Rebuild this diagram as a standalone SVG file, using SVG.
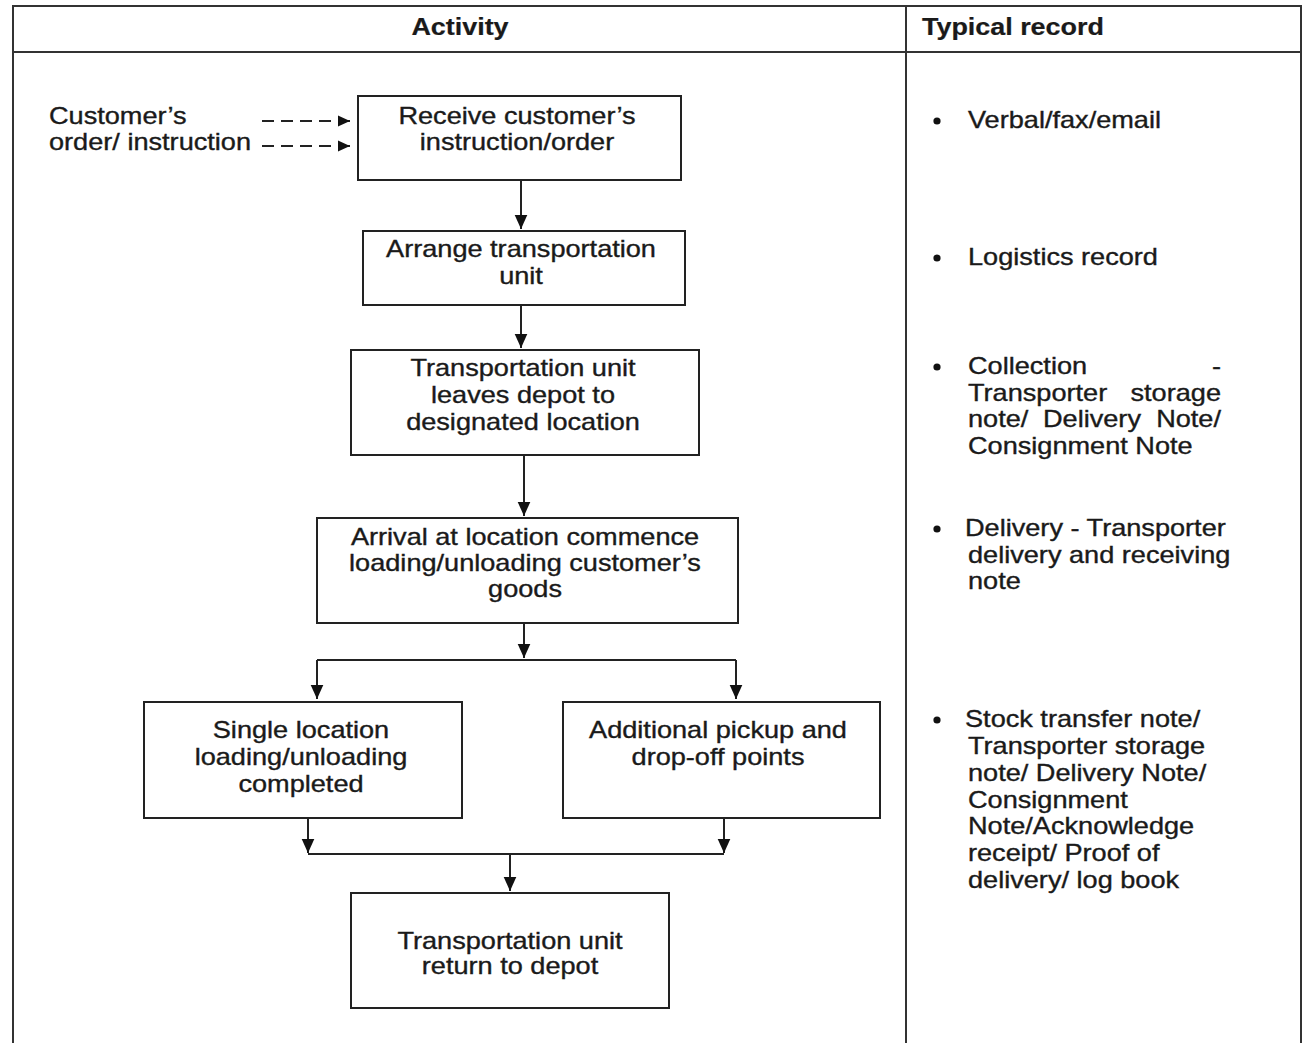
<svg xmlns="http://www.w3.org/2000/svg" width="1310" height="1043" viewBox="0 0 1310 1043">
<style>
.t{font-family:"Liberation Sans",Arial,sans-serif;font-size:23px;fill:#1a1a1a;stroke:#1a1a1a;stroke-width:0.35}
.m{text-anchor:middle}
.e{text-anchor:end}
.b{font-weight:bold;stroke-width:0.2}
.box{fill:#fff;stroke:#222;stroke-width:2}
.grid{stroke:#333;stroke-width:2;fill:none}
.c{stroke:#222;stroke-width:2;fill:none}
.d{stroke:#222;stroke-width:2;fill:none;stroke-dasharray:12 7}
</style>
<defs>
<marker id="ah" markerWidth="14" markerHeight="14" refX="10" refY="5" orient="auto" markerUnits="userSpaceOnUse" viewBox="0 0 10 10">
<path d="M0,0.5 L10,5 L0,9.5 Z" fill="#111"/>
</marker>
<marker id="ahs" markerWidth="12" markerHeight="12" refX="10" refY="5" orient="auto" markerUnits="userSpaceOnUse" viewBox="0 0 10 10">
<path d="M0,0.5 L10,5 L0,9.5 Z" fill="#111"/>
</marker>
</defs>
<rect width="1310" height="1043" fill="#fff"/>
<g id="table">
<path class="grid" d="M13,1050 V6 H1301 V1050 M906,6 V1050 M13,52 H1301"/>
<text class="t b m" transform="translate(460,35) scale(1.17,1)">Activity</text>
<text class="t b" transform="translate(922,35) scale(1.17,1)">Typical record</text>
</g>
<g id="input">
<text class="t" transform="translate(49,124) scale(1.18,1)">Customer’s</text>
<text class="t" transform="translate(49,150) scale(1.18,1)">order/ instruction</text>
</g>
<g id="connectors">
<line class="d" x1="262" y1="121" x2="350" y2="121" marker-end="url(#ahs)"/>
<line class="d" x1="262" y1="146" x2="350" y2="146" marker-end="url(#ahs)"/>
<line class="c" x1="521" y1="180" x2="521" y2="229" marker-end="url(#ah)"/>
<line class="c" x1="521" y1="305" x2="521" y2="348" marker-end="url(#ah)"/>
<line class="c" x1="524" y1="455" x2="524" y2="516" marker-end="url(#ah)"/>
<line class="c" x1="524" y1="623" x2="524" y2="658" marker-end="url(#ah)"/>
<line class="c" x1="317" y1="660" x2="736" y2="660"/>
<line class="c" x1="317" y1="660" x2="317" y2="699" marker-end="url(#ah)"/>
<line class="c" x1="736" y1="660" x2="736" y2="699" marker-end="url(#ah)"/>
<line class="c" x1="308" y1="818" x2="308" y2="853" marker-end="url(#ah)"/>
<line class="c" x1="724" y1="818" x2="724" y2="853" marker-end="url(#ah)"/>
<line class="c" x1="308" y1="854" x2="724" y2="854"/>
<line class="c" x1="510" y1="854" x2="510" y2="891" marker-end="url(#ah)"/>
</g>
<g id="n1">
<rect class="box" x="358" y="96" width="323" height="84"/>
<text class="t m" transform="translate(517,124) scale(1.18,1)">Receive customer’s</text>
<text class="t m" transform="translate(517,150) scale(1.18,1)">instruction/order</text>
</g>
<g id="n2">
<rect class="box" x="363" y="231" width="322" height="74"/>
<text class="t m" transform="translate(521,257) scale(1.18,1)">Arrange transportation</text>
<text class="t m" transform="translate(521,284) scale(1.18,1)">unit</text>
</g>
<g id="n3">
<rect class="box" x="351" y="350" width="348" height="105"/>
<text class="t m" transform="translate(523,376) scale(1.18,1)">Transportation unit</text>
<text class="t m" transform="translate(523,403) scale(1.18,1)">leaves depot to</text>
<text class="t m" transform="translate(523,430) scale(1.18,1)">designated location</text>
</g>
<g id="n4">
<rect class="box" x="317" y="518" width="421" height="105"/>
<text class="t m" transform="translate(525,545) scale(1.18,1)">Arrival at location commence</text>
<text class="t m" transform="translate(525,571) scale(1.18,1)">loading/unloading customer’s</text>
<text class="t m" transform="translate(525,597) scale(1.18,1)">goods</text>
</g>
<g id="n5">
<rect class="box" x="144" y="702" width="318" height="116"/>
<text class="t m" transform="translate(301,738) scale(1.18,1)">Single location</text>
<text class="t m" transform="translate(301,765) scale(1.18,1)">loading/unloading</text>
<text class="t m" transform="translate(301,792) scale(1.18,1)">completed</text>
</g>
<g id="n6">
<rect class="box" x="563" y="702" width="317" height="116"/>
<text class="t m" transform="translate(718,738) scale(1.18,1)">Additional pickup and</text>
<text class="t m" transform="translate(718,765) scale(1.18,1)">drop-off points</text>
</g>
<g id="n7">
<rect class="box" x="351" y="893" width="318" height="115"/>
<text class="t m" transform="translate(510,949) scale(1.18,1)">Transportation unit</text>
<text class="t m" transform="translate(510,974) scale(1.18,1)">return to depot</text>
</g>
<g id="records" fill="#111">
<circle cx="937" cy="121" r="3.6"/>
<text class="t" transform="translate(968,128) scale(1.18,1)">Verbal/fax/email</text>
<circle cx="937" cy="258" r="3.6"/>
<text class="t" transform="translate(968,265) scale(1.18,1)">Logistics record</text>
<circle cx="937" cy="367" r="3.6"/>
<text class="t" transform="translate(968,374) scale(1.18,1)">Collection</text>
<text class="t e" transform="translate(1221,374) scale(1.18,1)">-</text>
<text class="t" transform="translate(968,401) scale(1.18,1)">Transporter</text>
<text class="t e" transform="translate(1221,401) scale(1.18,1)">storage</text>
<text class="t" transform="translate(968,427) scale(1.18,1)">note/</text>
<text class="t" transform="translate(1043,427) scale(1.18,1)">Delivery</text>
<text class="t e" transform="translate(1221,427) scale(1.18,1)">Note/</text>
<text class="t" transform="translate(968,454) scale(1.18,1)">Consignment Note</text>
<circle cx="937" cy="529" r="3.6"/>
<text class="t" transform="translate(965,536) scale(1.18,1)">Delivery - Transporter</text>
<text class="t" transform="translate(968,563) scale(1.18,1)">delivery and receiving</text>
<text class="t" transform="translate(968,589) scale(1.18,1)">note</text>
<circle cx="937" cy="720" r="3.6"/>
<text class="t" transform="translate(965,727) scale(1.18,1)">Stock transfer note/</text>
<text class="t" transform="translate(968,754) scale(1.18,1)">Transporter storage</text>
<text class="t" transform="translate(968,781) scale(1.18,1)">note/ Delivery Note/</text>
<text class="t" transform="translate(968,808) scale(1.18,1)">Consignment</text>
<text class="t" transform="translate(968,834) scale(1.18,1)">Note/Acknowledge</text>
<text class="t" transform="translate(968,861) scale(1.18,1)">receipt/ Proof of</text>
<text class="t" transform="translate(968,888) scale(1.18,1)">delivery/ log book</text>
</g>
</svg>
